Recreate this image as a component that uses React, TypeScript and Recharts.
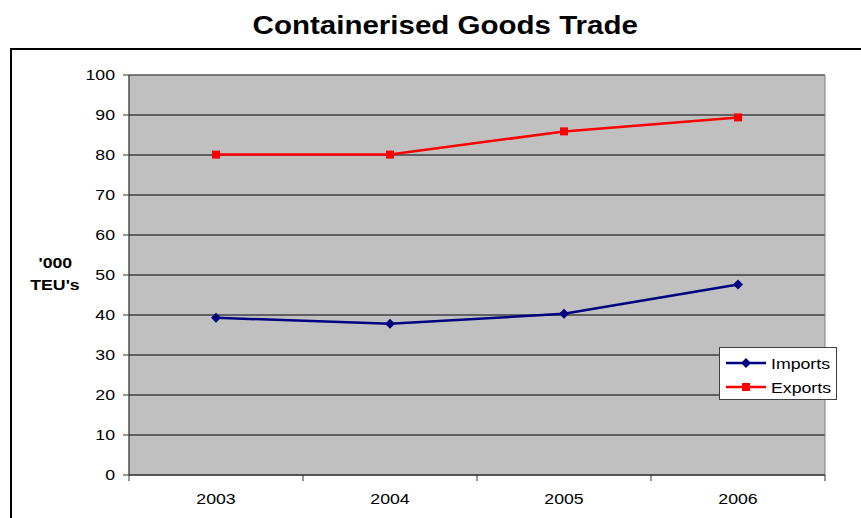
import React from "react";
import { LineChart, Line, XAxis, YAxis, CartesianGrid, ReferenceArea } from "recharts";

const years = ["2003", "2004", "2005", "2006"];
const imports = [39.3, 37.8, 40.3, 47.6];
const exports = [80.1, 80.1, 85.9, 89.4];
const yTicks = [0, 10, 20, 30, 40, 50, 60, 70, 80, 90, 100];
const xBounds = [0, 1, 2, 3, 4];

const data = years.map((y, i) => ({ x: i + 0.5, year: y, imports: imports[i], exports: exports[i] }));

const W = 861;
const H = 518;
const MARGIN = { top: 75, right: 36, bottom: 13, left: 69 };
const Y_W = 60;
const X_H = 30;
const PLOT_W = W - MARGIN.left - Y_W - MARGIN.right;
const BAND = PLOT_W / years.length;
const FONT = "'Liberation Sans', Arial, sans-serif";
const NAVY = "#000080";
const RED = "#FF0000";
const SX = 1.18;

const Diamond = (p: any) => {
  const { cx, cy, s = 5, fill } = p;
  if (cx == null || cy == null) return <g />;
  return <polygon points={`${cx},${cy - s} ${cx + s},${cy} ${cx},${cy + s} ${cx - s},${cy}`} fill={fill} />;
};
const Square = (p: any) => {
  const { cx, cy, s = 4, fill } = p;
  if (cx == null || cy == null) return <g />;
  return <rect x={cx - s} y={cy - s} width={2 * s} height={2 * s} fill={fill} />;
};

const XTick = (props: any) => {
  const { x, y, payload } = props;
  const i = payload.value;
  if (i >= years.length) return <g />;
  return (
    <text
      transform={`translate(${x + BAND / 2},${y + 21}) scale(${SX},1)`}
      textAnchor="middle"
      fontSize={15}
      fill="#000"
      fontFamily={FONT}
    >
      {years[i]}
    </text>
  );
};

const YTick = (props: any) => {
  const { x, y, payload } = props;
  return (
    <text
      transform={`translate(${x},${y + 5}) scale(${SX},1)`}
      textAnchor="end"
      fontSize={15}
      fill="#000"
      fontFamily={FONT}
    >
      {payload.value}
    </text>
  );
};

const scaled: React.CSSProperties = { display: "inline-block", transform: `scaleX(${SX})` };

const LegendBox = () => (
  <div
    style={{
      position: "absolute",
      left: 719,
      top: 347,
      width: 118,
      height: 53,
      boxSizing: "border-box",
      background: "#fff",
      border: "1px solid #404040",
      fontFamily: FONT,
      fontSize: 15,
      color: "#000",
    }}
  >
    {[
      { name: "Imports", color: NAVY, shape: "d" },
      { name: "Exports", color: RED, shape: "s" },
    ].map((it, i) => (
      <div key={it.name} style={{ display: "flex", alignItems: "center", height: 24, marginTop: i === 0 ? 3 : 0 }}>
        <svg width={42} height={16} style={{ marginLeft: 6 }}>
          <line x1={0} y1={8} x2={40} y2={8} stroke={it.color} strokeWidth={2.5} />
          {it.shape === "d" ? <Diamond cx={20} cy={8} fill={it.color} /> : <Square cx={20} cy={8} fill={it.color} />}
        </svg>
        <span style={{ ...scaled, transformOrigin: "left center", marginLeft: 3 }}>{it.name}</span>
      </div>
    ))}
  </div>
);

export default function App() {
  return (
    <div style={{ position: "absolute", left: 0, top: 0, width: W, height: H, overflow: "hidden", background: "#fff" }}>
      <div
        style={{
          position: "absolute",
          left: 10,
          top: 48,
          width: 900,
          height: 520,
          border: "2px solid #000",
          boxSizing: "border-box",
        }}
      />
      <div
        style={{
          position: "absolute",
          left: 0,
          top: 11,
          width: 890,
          textAlign: "center",
          fontFamily: FONT,
          fontWeight: "bold",
          fontSize: 25,
          color: "#000",
        }}
      >
        <span style={scaled}>Containerised Goods Trade</span>
      </div>
      <div
        style={{
          position: "absolute",
          left: 15,
          top: 252,
          width: 80,
          textAlign: "center",
          fontFamily: FONT,
          fontWeight: "bold",
          fontSize: 15,
          lineHeight: "22px",
          color: "#000",
        }}
      >
        <span style={scaled}>'000</span>
        <br />
        <span style={scaled}>TEU's</span>
      </div>
      <div style={{ position: "absolute", left: 0, top: 0 }}>
        <LineChart width={W} height={H} data={data} margin={MARGIN}>
          <CartesianGrid fill="#C0C0C0" fillOpacity={1} vertical={false} stroke="#000" strokeOpacity={1} />
          <XAxis
            dataKey="x"
            type="number"
            domain={[0, 4]}
            ticks={xBounds}
            height={X_H}
            tick={<XTick />}
            tickSize={6}
            tickLine={{ stroke: "#333" }}
            axisLine={{ stroke: "#333" }}
            interval={0}
          />
          <YAxis
            type="number"
            domain={[0, 100]}
            ticks={yTicks}
            width={Y_W}
            tickSize={6}
            tickMargin={8}
            interval={0}
            tick={<YTick />}
            tickLine={{ stroke: "#333" }}
            axisLine={{ stroke: "#333" }}
          />
          <ReferenceArea x1={0} x2={4} y1={0} y2={100} fill="none" stroke="#808080" strokeWidth={1} ifOverflow="visible" />
          <Line
            dataKey="imports"
            stroke={NAVY}
            strokeWidth={2.5}
            isAnimationActive={false}
            dot={(p: any) => <Diamond key={`d${p.index}`} cx={p.cx} cy={p.cy} fill={NAVY} />}
            activeDot={false}
          />
          <Line
            dataKey="exports"
            stroke={RED}
            strokeWidth={2.5}
            isAnimationActive={false}
            dot={(p: any) => <Square key={`s${p.index}`} cx={p.cx} cy={p.cy} fill={RED} />}
            activeDot={false}
          />
        </LineChart>
      </div>
      <LegendBox />
    </div>
  );
}
